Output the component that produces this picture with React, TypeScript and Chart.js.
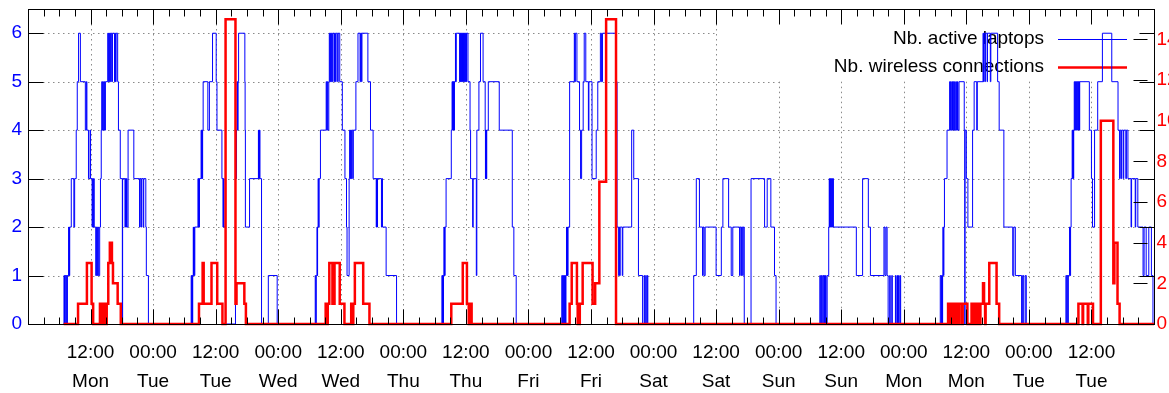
import { useEffect, useRef } from "react";
import { Chart, registerables } from "chart.js";

Chart.register(...registerables);

const FONT = "'Liberation Sans', Arial, Helvetica, sans-serif";

// x axis: hours since Monday 00:00
const xMin = 0;
const xMax = 216;
const dataStart = 6.85;
const xTickValues = [12, 24, 36, 48, 60, 72, 84, 96, 108, 120, 132, 144, 156, 168, 180, 192, 204];
const xTickLabels = [
  ["12:00", "Mon"], ["00:00", "Tue"], ["12:00", "Tue"], ["00:00", "Wed"], ["12:00", "Wed"],
  ["00:00", "Thu"], ["12:00", "Thu"], ["00:00", "Fri"], ["12:00", "Fri"], ["00:00", "Sat"],
  ["12:00", "Sat"], ["00:00", "Sun"], ["12:00", "Sun"], ["00:00", "Mon"], ["12:00", "Mon"],
  ["00:00", "Tue"], ["12:00", "Tue"],
];
const yTickValues = [0, 1, 2, 3, 4, 5, 6];
const y2TickValues = [0, 2, 4, 6, 8, 10, 12, 14];
const yMax = 6.5;
const y2Max = 15.5;

const laptopsLabel = "Nb. active laptops";
const connLabel = "Nb. wireless connections";

// [hour, value] change points: Nb. active laptops
const monLaptops: [number, number][] = [
  [6.9, 1], [7.0, 0], [7.1, 1], [7.25, 0], [7.35, 1], [7.5, 0], [7.55, 1],
  [7.8, 2], [7.85, 1], [7.9, 2], [7.95, 1], [8.0, 2], [8.3, 3], [8.8, 2], [8.95, 3],
  [9.25, 4], [9.45, 5], [9.7, 6], [10.05, 5], [11.0, 4], [11.2, 5], [11.3, 4], [11.6, 3],
  [11.9, 4], [12.0, 3], [12.3, 2], [12.4, 3], [12.5, 2], [12.6, 3], [12.7, 2], [13.0, 1],
  [13.1, 2], [13.2, 1], [13.35, 2], [13.5, 1], [13.75, 2], [13.9, 3], [14.05, 4], [14.15, 5],
  [14.25, 4], [14.35, 5], [14.45, 4], [14.6, 5], [14.7, 4], [14.85, 5], [15.3, 6], [15.4, 5],
  [15.5, 6], [15.6, 5], [15.7, 6], [15.85, 5], [15.95, 6], [16.1, 5], [16.2, 6], [16.6, 5],
  [16.7, 6], [16.8, 5], [16.9, 6], [17.2, 5], [17.35, 4], [17.7, 3], [18.1, 0], [18.15, 3],
  [18.6, 2], [18.7, 3], [18.8, 2], [18.9, 3], [19.0, 2], [19.2, 4], [20.3, 3], [21.4, 2],
  [21.5, 3], [21.7, 2], [21.8, 3], [22.1, 2], [22.2, 3], [22.6, 2], [22.7, 1], [23.1, 0],
];
const tueLaptops: [number, number][] = [
  [31.3, 1], [31.4, 0], [31.45, 1], [31.55, 0], [31.6, 1], [31.7, 2], [31.75, 1], [31.85, 2],
  [31.9, 1], [32.0, 2], [32.6, 3], [32.7, 2], [32.75, 3], [32.85, 2], [32.9, 3], [33.2, 4],
  [33.3, 3], [33.35, 4], [33.45, 3], [33.5, 4], [33.6, 5], [34.5, 4], [34.8, 5], [35.4, 6],
  [36.1, 5], [36.25, 4], [37.2, 3], [37.4, 2], [37.5, 3], [37.6, 2], [37.9, 0], [39.8, 4],
  [39.9, 3], [40.0, 4], [40.1, 5], [40.2, 4], [40.3, 5], [40.4, 6], [41.6, 5], [41.65, 4],
  [41.7, 2], [42.5, 3], [44.2, 4], [44.25, 3], [44.3, 4], [44.35, 3], [44.4, 4], [44.5, 3],
  [44.8, 0], [46.1, 1], [47.8, 0],
];
const wedLaptops: [number, number][] = [
  [55.1, 1], [55.2, 0], [55.3, 1], [55.45, 2], [55.5, 1], [55.55, 2], [55.65, 3], [55.75, 2],
  [55.85, 3], [56.1, 4], [57.2, 5], [57.3, 4], [57.4, 5], [57.5, 4], [57.7, 5], [57.8, 6],
  [57.9, 5], [58.0, 6], [58.1, 5], [58.2, 6], [58.35, 5], [58.45, 6], [58.7, 5], [58.8, 6],
  [59.0, 5], [59.1, 6], [59.4, 5], [59.5, 6], [59.8, 5], [60.3, 4], [60.8, 3], [61.1, 2],
  [61.2, 1], [61.6, 3], [61.7, 4], [61.8, 3], [61.9, 4], [62.0, 3], [62.1, 4], [62.3, 3],
  [62.4, 4], [62.9, 5], [63.3, 6], [63.7, 5], [63.8, 6], [64.0, 5], [64.05, 6], [65.2, 5],
  [65.7, 4], [66.2, 3], [66.8, 2], [66.85, 3], [66.9, 2], [66.95, 3], [67.0, 2], [67.05, 3],
  [67.8, 2], [67.9, 3], [68.0, 2], [68.7, 1], [70.7, 0],
];
const thuLaptops: [number, number][] = [
  [79.4, 1], [79.5, 0], [79.55, 1], [79.65, 0], [79.7, 1], [79.8, 2], [79.85, 1], [79.9, 2],
  [79.95, 1], [80.0, 2], [80.2, 3], [81.2, 4], [81.35, 5], [81.45, 4], [81.5, 5], [81.6, 4],
  [81.65, 5], [81.75, 4], [81.8, 5], [82.0, 6], [82.05, 5], [82.15, 6], [82.8, 5], [82.85, 6],
  [82.95, 5], [83.0, 6], [83.1, 5], [83.15, 6], [83.3, 5], [83.35, 6], [83.5, 5], [83.55, 6],
  [83.7, 5], [83.75, 6], [83.9, 5], [83.95, 6], [84.1, 5], [84.15, 6], [84.4, 5], [84.8, 4],
  [84.9, 3], [85.3, 2], [85.4, 3], [86.0, 1], [86.1, 4], [86.5, 5], [86.8, 6], [87.3, 5],
  [87.7, 4], [87.75, 3], [87.8, 4], [87.85, 3], [87.9, 4], [87.95, 3], [88.0, 4], [88.3, 5],
  [90.4, 4], [92.9, 2], [93.2, 1], [93.65, 0],
];
const friLaptops: [number, number][] = [
  [102.4, 1], [102.5, 0], [102.6, 1], [102.7, 0], [102.8, 1], [102.9, 0], [103.0, 1], [103.1, 0],
  [103.2, 1], [103.3, 2], [103.35, 1], [103.45, 2], [103.5, 1], [103.6, 2], [103.9, 5], [104.8, 6],
  [104.9, 5], [105.0, 6], [105.3, 5], [105.8, 4], [106.0, 3], [106.2, 4], [106.5, 5], [106.7, 6],
  [107.0, 5], [107.5, 4], [107.6, 5], [108.2, 3], [109.0, 4], [109.3, 5], [109.8, 6], [110.0, 5],
  [110.2, 6], [112.8, 5], [113.0, 2], [113.3, 1], [113.4, 2], [113.5, 1], [113.6, 2], [114.0, 1],
  [114.1, 2], [115.8, 4], [116.2, 3], [117.1, 1], [117.9, 0], [118.2, 1], [118.3, 0], [118.5, 1],
  [118.6, 0], [118.8, 1], [118.9, 0],
];
const satLaptops: [number, number][] = [
  [127.7, 1], [128.2, 3], [128.8, 2], [129.4, 1], [129.5, 2], [129.7, 1], [129.9, 2], [132.0, 1],
  [133.0, 2], [133.3, 3], [134.4, 2], [134.9, 1], [135.2, 2], [136.5, 1], [136.6, 2], [136.8, 1],
  [136.9, 2], [137.1, 1], [137.2, 2], [137.4, 0], [138.7, 3], [141.3, 2], [141.8, 3], [142.5, 2],
  [143.2, 1], [143.5, 0],
];
const sunLaptops: [number, number][] = [
  [151.9, 1], [152.0, 0], [152.2, 1], [152.35, 0], [152.5, 1], [152.65, 0], [152.8, 1], [152.9, 0],
  [153.0, 1], [153.1, 0], [153.3, 1], [153.6, 2], [153.7, 3], [153.75, 2], [153.85, 3], [153.9, 2],
  [154.0, 3], [154.1, 2], [154.2, 3], [154.3, 2], [154.4, 3], [154.5, 2], [158.9, 1], [160.1, 3],
  [161.2, 2], [161.6, 1], [164.2, 2], [164.4, 1], [164.6, 2], [164.8, 1], [165.0, 0], [165.3, 1],
  [165.4, 0], [165.7, 1], [165.8, 0], [166.4, 1], [166.5, 0], [166.7, 1], [166.8, 0], [167.0, 1],
  [167.1, 0], [167.3, 1], [167.4, 0],
];
const mon2Laptops: [number, number][] = [
  [175.0, 1], [175.15, 0], [175.25, 1], [175.4, 0], [175.45, 1], [175.5, 2], [175.6, 1], [175.7, 2],
  [175.8, 3], [176.3, 4], [176.8, 5], [176.9, 4], [177.0, 5], [177.1, 4], [177.25, 5], [177.35, 4],
  [177.5, 5], [177.6, 4], [177.75, 5], [177.85, 4], [178.0, 5], [178.1, 4], [178.3, 5], [178.4, 4],
  [178.6, 5], [179.6, 4], [179.7, 0], [179.75, 4], [180.0, 3], [180.3, 2], [181.2, 4], [181.5, 5],
  [182.0, 4], [182.1, 5], [183.2, 6], [183.3, 5], [183.4, 6], [183.6, 5], [183.65, 6], [184.0, 5],
  [184.05, 6], [184.6, 5], [184.7, 6], [186.0, 5], [186.3, 4], [187.2, 2], [188.9, 1], [189.1, 2],
  [189.4, 1], [190.6, 0], [190.8, 1], [191.0, 0], [191.3, 1], [191.5, 0],
];
const tue2Laptops: [number, number][] = [
  [199.1, 1], [199.25, 0], [199.35, 1], [199.5, 0], [199.55, 1], [199.8, 2], [199.9, 1], [200.0, 2],
  [200.1, 3], [200.3, 4], [200.4, 3], [200.45, 4], [200.55, 3], [200.6, 4], [200.7, 5], [200.8, 4],
  [200.9, 5], [201.0, 4], [201.1, 5], [201.2, 4], [201.3, 5], [201.45, 4], [201.5, 5], [201.7, 4],
  [201.75, 5], [203.6, 4], [204.0, 3], [204.2, 2], [204.6, 4], [205.2, 5], [206.1, 6], [207.9, 5],
  [209.1, 4], [209.4, 3], [209.5, 4], [209.7, 3], [209.8, 4], [210.1, 3], [210.2, 4], [210.6, 3],
  [210.7, 4], [211.0, 3], [211.6, 2], [211.7, 3], [212.4, 2], [212.5, 3], [212.9, 2], [213.9, 1],
  [214.1, 2], [214.5, 1], [215.0, 2], [215.5, 1], [215.8, 0],
];

// [hour, value] change points: Nb. wireless connections
const monConn: [number, number][] = [
  [9.6, 1], [11.3, 3], [12.2, 1], [12.5, 0], [13.8, 1], [13.9, 0], [14.0, 1], [14.2, 0], [14.3, 1],
  [14.6, 0], [14.7, 1], [15.0, 0], [15.1, 1], [15.4, 3], [15.7, 4], [16.1, 3], [16.3, 2], [17.2, 1],
  [17.8, 0],
];
const tueConn: [number, number][] = [
  [32.8, 1], [33.5, 3], [33.7, 1], [35.2, 3], [36.3, 1], [37.3, 0], [37.9, 15], [39.8, 1],
  [40.0, 2], [41.5, 1], [41.8, 0],
];
const wedConn: [number, number][] = [
  [57.1, 1], [57.2, 0], [57.3, 1], [57.4, 0], [57.5, 1], [57.8, 3], [58.4, 1], [58.8, 3],
  [59.8, 1], [60.7, 0], [62.0, 1], [62.1, 0], [62.2, 1], [62.3, 0], [62.4, 1], [62.7, 3],
  [64.3, 1], [65.5, 0],
];
const thuConn: [number, number][] = [
  [81.2, 1], [83.4, 3], [84.2, 1], [84.55, 0], [84.6, 1], [84.75, 0], [84.8, 1], [84.95, 0],
  [85.0, 1], [85.1, 0],
];
const friConn: [number, number][] = [
  [103.9, 1], [104.3, 3], [105.3, 1], [105.45, 0], [105.55, 1], [105.75, 0], [105.85, 1],
  [106.4, 3], [108.3, 1], [108.8, 2], [109.6, 7], [110.9, 15], [112.8, 0],
];
const mon2Conn: [number, number][] = [
  [176.5, 1], [176.7, 0], [176.8, 1], [177.1, 0], [177.2, 1], [177.6, 0], [177.7, 1], [178.1, 0],
  [178.2, 1], [178.6, 0], [178.7, 1], [179.2, 0], [179.3, 1], [180.2, 0], [181.0, 1], [181.2, 0],
  [181.3, 1], [181.7, 0], [181.8, 1], [182.2, 0], [182.3, 1], [182.6, 0], [182.7, 1], [183.2, 2],
  [183.4, 1], [183.6, 0], [183.7, 1], [184.4, 3], [185.8, 1], [186.3, 0],
];
const tue2Conn: [number, number][] = [
  [201.5, 1], [202.3, 0], [202.4, 1], [203.3, 0], [203.4, 1], [204.3, 0], [205.8, 10],
  [208.2, 2], [208.4, 4], [209.0, 1], [209.4, 0],
];

const laptopDays = [monLaptops, tueLaptops, wedLaptops, thuLaptops, friLaptops, satLaptops, sunLaptops, mon2Laptops, tue2Laptops];
const connDays = [monConn, tueConn, wedConn, thuConn, friConn, mon2Conn, tue2Conn];

function toPoints(days: [number, number][][]) {
  const pts = [{ x: dataStart, y: 0 }];
  for (const d of days) for (const [x, y] of d) pts.push({ x, y });
  pts.push({ x: xMax, y: 0 });
  return pts;
}

const gridPlugin = {
  id: "gnuGrid",
  beforeDatasetsDraw(chart: any) {
    const { ctx, chartArea: a, scales } = chart;
    const x = scales.x;
    const y = scales.y;
    ctx.save();
    ctx.strokeStyle = "#8a8a8a";
    ctx.lineWidth = 1;
    ctx.setLineDash([1.5, 3.5]);
    ctx.beginPath();
    for (const v of xTickValues) {
      const px = Math.round(x.getPixelForValue(v)) + 0.5;
      const top = v >= 144 ? y.getPixelForValue(5) : a.top;
      ctx.moveTo(px, top);
      ctx.lineTo(px, a.bottom);
    }
    for (const v of yTickValues) {
      if (v === 0) continue;
      const py = Math.round(y.getPixelForValue(v)) + 0.5;
      let right = a.right;
      if (v === 6) right = x.getPixelForValue(132);
      if (v === 5) right = x.getPixelForValue(144);
      ctx.moveTo(a.left, py);
      ctx.lineTo(right, py);
    }
    ctx.stroke();
    ctx.restore();

    // key
    ctx.save();
    ctx.font = `19px ${FONT}`;
    ctx.fillStyle = "#000";
    ctx.textAlign = "right";
    ctx.textBaseline = "middle";
    ctx.fillText(laptopsLabel, 1044, 39);
    ctx.fillText(connLabel, 1044, 67);
    ctx.lineWidth = 1;
    ctx.strokeStyle = "#0000ff";
    ctx.beginPath();
    ctx.moveTo(1058, 39.5);
    ctx.lineTo(1127, 39.5);
    ctx.stroke();
    ctx.lineWidth = 2.5;
    ctx.strokeStyle = "#ff0000";
    ctx.beginPath();
    ctx.moveTo(1058, 67.5);
    ctx.lineTo(1127, 67.5);
    ctx.stroke();
    ctx.restore();
  },
};

const framePlugin = {
  id: "gnuFrame",
  afterDatasetsDraw(chart: any) {
    const { ctx, chartArea: a, scales } = chart;
    const x = scales.x;
    const y = scales.y;
    const y2 = scales.y2;
    const L = Math.round(a.left) + 0.5;
    const R = Math.round(a.right) + 0.5;
    const T = Math.round(a.top) + 0.5;
    const B = Math.round(a.bottom) + 0.5;
    ctx.save();
    ctx.strokeStyle = "#000";
    ctx.lineWidth = 1;
    ctx.beginPath();
    for (let h = xMin; h <= xMax; h += 3) {
      const px = Math.round(x.getPixelForValue(h)) + 0.5;
      const len = h % 12 === 0 ? 15 : 7;
      ctx.moveTo(px, B);
      ctx.lineTo(px, B - len);
      ctx.moveTo(px, T);
      ctx.lineTo(px, T + len);
    }
    for (const v of yTickValues) {
      const py = Math.round(y.getPixelForValue(v)) + 0.5;
      ctx.moveTo(L, py);
      ctx.lineTo(L + 15, py);
      ctx.moveTo(R, py);
      ctx.lineTo(R - 15, py);
    }
    for (const v of y2TickValues) {
      const py = Math.round(y2.getPixelForValue(v)) + 0.5;
      ctx.moveTo(R - 21, py);
      ctx.lineTo(R - 7, py);
    }
    ctx.stroke();
    ctx.strokeRect(L, T, R - L, B - T);
    ctx.restore();
  },
};

const noPad = (s: any) => {
  s.paddingTop = 0;
  s.paddingBottom = 0;
  s.paddingLeft = 0;
  s.paddingRight = 0;
};

export default function App() {
  const ref = useRef<HTMLCanvasElement | null>(null);
  useEffect(() => {
    if (!ref.current) return;
    const font = { family: FONT, size: 19 };
    const chart = new Chart(ref.current, {
      type: "line",
      data: {
        datasets: [
          {
            label: connLabel,
            data: toPoints(connDays),
            yAxisID: "y2",
            borderColor: "#ff0000",
            borderWidth: 2.5,
            stepped: true,
            pointRadius: 0,
            fill: false,
            clip: 3,
            borderJoinStyle: "miter",
          } as any,
          {
            label: laptopsLabel,
            data: toPoints(laptopDays),
            yAxisID: "y",
            borderColor: "#0000ff",
            borderWidth: 1,
            stepped: true,
            pointRadius: 0,
            fill: false,
            borderJoinStyle: "miter",
          } as any,
        ],
      },
      options: {
        animation: false,
        responsive: false,
        maintainAspectRatio: false,
        devicePixelRatio: 1,
        events: [],
        layout: { padding: { top: 9, left: 0, right: 0, bottom: 0 } },
        plugins: { legend: { display: false }, tooltip: { enabled: false } },
        scales: {
          x: {
            type: "linear",
            min: xMin,
            max: xMax,
            afterBuildTicks: (s: any) => {
              s.ticks = xTickValues.map((v) => ({ value: v }));
            },
            afterFit: (s: any) => {
              s.height = 69;
              noPad(s);
            },
            grid: { display: false, drawTicks: false, tickLength: 0 },
            border: { display: false },
            ticks: {
              autoSkip: false,
              maxRotation: 0,
              minRotation: 0,
              padding: 15,
              color: "#000",
              font: { ...font, lineHeight: 1.495 },
              callback: (v: any) => xTickLabels[xTickValues.indexOf(Number(v))] ?? "",
            },
          },
          y: {
            type: "linear",
            position: "left",
            min: 0,
            max: yMax,
            afterBuildTicks: (s: any) => {
              s.ticks = yTickValues.map((v) => ({ value: v }));
            },
            afterFit: (s: any) => {
              s.width = 28;
              noPad(s);
            },
            grid: { display: false, drawTicks: false, tickLength: 0 },
            border: { display: false },
            ticks: { color: "#0000ff", padding: 6, font, callback: (v: any) => String(v) },
          },
          y2: {
            type: "linear",
            position: "right",
            min: 0,
            max: y2Max,
            afterBuildTicks: (s: any) => {
              s.ticks = y2TickValues.map((v) => ({ value: v }));
            },
            afterFit: (s: any) => {
              s.width = 15;
              noPad(s);
            },
            grid: { display: false, drawTicks: false, tickLength: 0 },
            border: { display: false },
            ticks: { color: "#ff0000", padding: 2.5, font, callback: (v: any) => String(v) },
          },
        },
      } as any,
      plugins: [gridPlugin, framePlugin],
    });
    return () => chart.destroy();
  }, []);
  return (
    <div style={{ position: "fixed", left: 0, top: 0, width: 1169, height: 393, background: "#fff" }}>
      <canvas ref={ref} width={1169} height={393} style={{ display: "block", width: 1169, height: 393 }} />
    </div>
  );
}
